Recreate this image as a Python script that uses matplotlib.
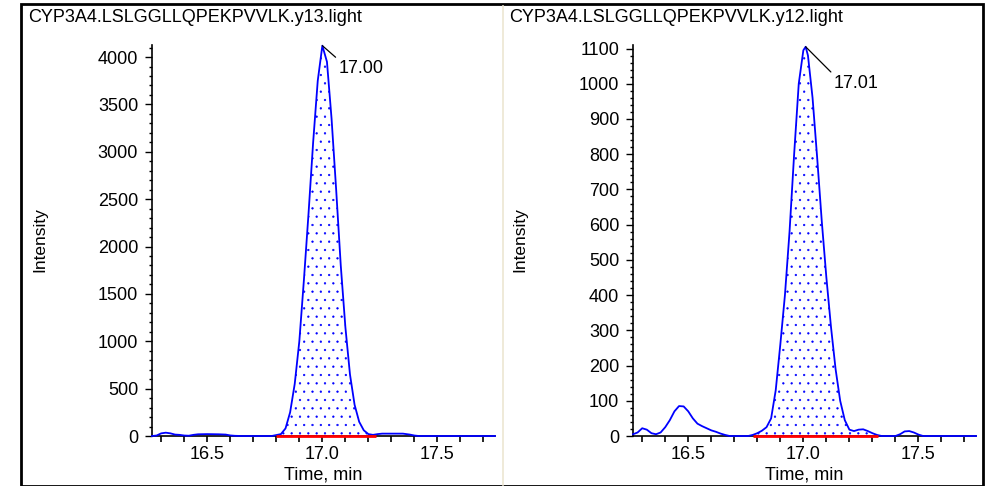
import matplotlib
matplotlib.use("Agg")
import matplotlib.pyplot as plt
from matplotlib.ticker import MultipleLocator, FixedLocator
from matplotlib.patches import Rectangle
import numpy as np

plt.rcParams['font.family'] = ['Liberation Sans', 'DejaVu Sans']
plt.rcParams['hatch.linewidth'] = 0.4

# ---- data ----
titles = ["CYP3A4.LSLGGLLQPEKPVVLK.y13.light", "CYP3A4.LSLGGLLQPEKPVVLK.y12.light"]

t13 = [16.26, 16.28, 16.30, 16.32, 16.34, 16.36, 16.38, 16.40, 16.42, 16.44, 16.46, 16.50,
       16.55, 16.58, 16.60, 16.62, 16.65, 16.78, 16.80, 16.82, 16.84, 16.86, 16.88, 16.90,
       16.92, 16.94, 16.96, 16.98, 17.00, 17.02, 17.04, 17.06, 17.08, 17.10, 17.12, 17.14,
       17.16, 17.18, 17.20, 17.22, 17.24, 17.26, 17.30, 17.35, 17.38, 17.40, 17.42, 17.75]
i13 = [0, 5, 28, 35, 28, 15, 12, 5, 3, 12, 18, 20,
       18, 15, 6, 2, 0, 0, 10, 20, 80, 250, 550, 1000,
       1650, 2350, 3100, 3750, 4120, 3950, 3350, 2600, 1800, 1150, 650, 330,
       150, 60, 20, 12, 20, 25, 25, 25, 15, 5, 0, 0]

t12 = [16.26, 16.28, 16.30, 16.32, 16.34, 16.36, 16.38, 16.40, 16.42, 16.44, 16.46, 16.48,
       16.50, 16.52, 16.54, 16.56, 16.58, 16.60, 16.62, 16.64, 16.66, 16.68, 16.76, 16.78,
       16.80, 16.82, 16.84, 16.86, 16.88, 16.90, 16.92, 16.94, 16.96, 16.98, 17.00, 17.01,
       17.02, 17.04, 17.06, 17.08, 17.10, 17.12, 17.14, 17.16, 17.18, 17.20, 17.22, 17.24,
       17.26, 17.28, 17.30, 17.32, 17.34, 17.40, 17.42, 17.44, 17.46, 17.48, 17.50, 17.52, 17.75]
i12 = [5, 10, 22, 18, 8, 5, 10, 25, 45, 70, 85, 84,
       70, 50, 35, 28, 22, 16, 12, 7, 3, 0, 0, 3,
       8, 15, 25, 50, 130, 260, 400, 580, 800, 1000, 1095, 1105,
       1080, 960, 790, 610, 450, 310, 190, 100, 45, 18, 14, 18,
       19, 14, 8, 3, 0, 0, 5, 13, 14, 10, 4, 0, 0]

apex_t = [17.00, 17.01]
apex_i = [4120, 1105]
apex_lbl = ["17.00", "17.01"]
integ = [(16.80, 17.235), (16.78, 17.326)]
ylims = [4127, 1110]
ymajor = [500, 100]
yminor = [100, 20]
label_off = [(16, -14), (28, -28)]

series_t = [t13, t12]
series_i = [i13, i12]

W, H = 992, 486
FS = 13
fig = plt.figure(figsize=(W / 100, H / 100), dpi=100)
fig.patch.set_facecolor('white')

# outer frame and divider
fig.add_artist(Rectangle((21 / W, 0.5 / H), (983 - 21) / W, (481) / H,
                         transform=fig.transFigure, fill=False, ec='black', lw=2.0))
fig.add_artist(plt.Line2D([503 / W, 503 / W], [1 / H, 1 - 6 / H], transform=fig.transFigure,
                          color='#ece6d2', lw=1.2))

ax_left_px = [152, 633]
title_x = [28, 509]
ylab_x = [40, 520]

for k in range(2):
    x0 = ax_left_px[k]
    ax = fig.add_axes([x0 / W, 1 - 436 / H, 343 / W, 391 / H])
    t = np.array(series_t[k])
    y = np.array(series_i[k])
    ax.set_xlim(16.26, 17.75)
    ax.set_ylim(0, ylims[k])
    lo, hi = integ[k]
    m = (t >= lo) & (t <= hi)
    ax.fill_between(t, 0, y, where=m, interpolate=True, facecolor='white',
                    edgecolor='#0000ff', hatch='..', lw=0, zorder=2)
    ax.plot(t, y, color='#0000ff', lw=1.3, zorder=3, clip_on=False)
    ax.plot([lo, hi], [0, 0], color='#ff0000', lw=2.0, zorder=4, clip_on=False,
            solid_capstyle='butt')
    ax.annotate(apex_lbl[k], xy=(apex_t[k], apex_i[k]), xytext=label_off[k],
                textcoords='offset pixels', fontsize=FS, va='top', ha='left',
                arrowprops=dict(arrowstyle='-', color='black', lw=0.9,
                                shrinkA=0, shrinkB=0, relpos=(0, 1)))
    for s in ['top', 'right']:
        ax.spines[s].set_visible(False)
    for s in ['left', 'bottom']:
        ax.spines[s].set_linewidth(1.2)
    ax.xaxis.set_major_locator(FixedLocator([16.5, 17.0, 17.5]))
    ax.xaxis.set_major_formatter(matplotlib.ticker.FormatStrFormatter('%.1f'))
    ax.xaxis.set_minor_locator(MultipleLocator(0.1))
    ax.yaxis.set_major_locator(MultipleLocator(ymajor[k]))
    ax.yaxis.set_minor_locator(MultipleLocator(yminor[k]))
    ax.tick_params(axis='x', which='major', direction='out', length=4, width=1.2,
                   labelsize=FS, pad=3)
    ax.tick_params(axis='x', which='minor', direction='out', length=4, width=1.2)
    ax.tick_params(axis='y', which='major', direction='out', length=5, width=1.0,
                   labelsize=FS, pad=5)
    ax.tick_params(axis='y', which='minor', direction='out', length=2, width=1.0)
    fig.text(title_x[k] / W, 1 - 17 / H, titles[k], fontsize=FS, ha='left', va='center')
    fig.text(ylab_x[k] / W, 1 - 240 / H, "Intensity", fontsize=12.5, rotation=90,
             ha='center', va='center')
    fig.text((x0 + 171) / W, 1 - 475 / H, "Time, min", fontsize=FS, ha='center',
             va='center')

fig.savefig("out.png", dpi=100, facecolor='white')
